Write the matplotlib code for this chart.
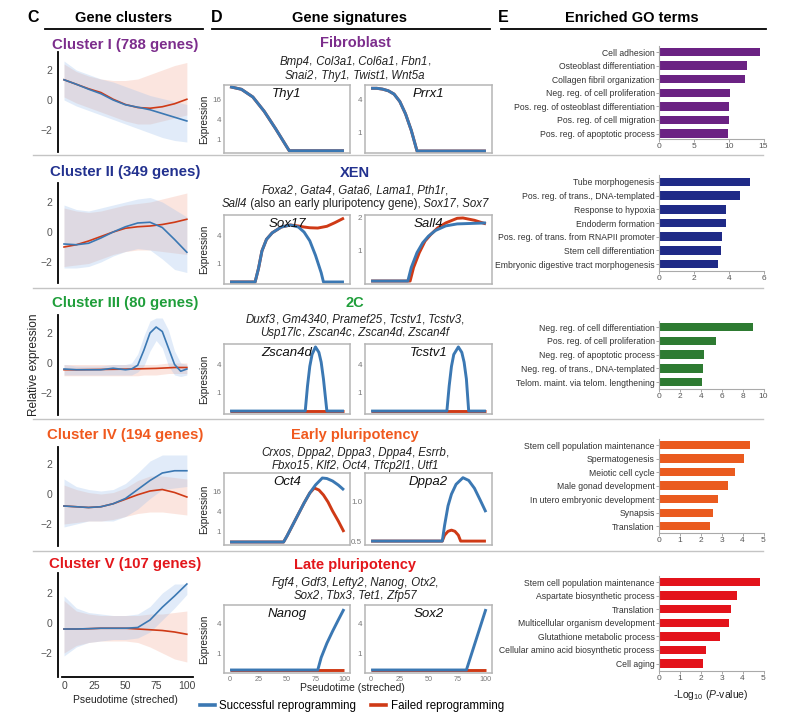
import re
import matplotlib
matplotlib.use("Agg")
import matplotlib.pyplot as plt
from matplotlib.lines import Line2D
from matplotlib.offsetbox import TextArea, HPacker, AnnotationBbox

plt.rcParams['font.family'] = ['Liberation Sans', 'DejaVu Sans']
plt.rcParams['mathtext.fontset'] = 'custom'
plt.rcParams['mathtext.rm'] = 'Liberation Sans'
plt.rcParams['mathtext.it'] = 'Liberation Sans:italic'
plt.rcParams['mathtext.bf'] = 'Liberation Sans:bold'

W, H = 787, 717
BLUE = '#3b78b3'
RED = '#cf3a16'
LIGHT_BLUE = '#9cc0ec'
LIGHT_RED = '#f4a48c'

# --- C: cluster trajectories (pseudotime vs relative expression) ---
t11 = [0, 10, 20, 30, 40, 50, 60, 70, 80, 90, 100]

c1_blue = [1.35, 1.05, 0.72, 0.42, 0.0, -0.32, -0.48, -0.65, -0.9, -1.15, -1.4]
c1_red = [1.35, 1.05, 0.75, 0.5, 0.05, -0.3, -0.5, -0.55, -0.45, -0.25, 0.05]
c1_blue_hi = [2.6, 2.0, 1.7, 1.4, 1.2, 0.9, 0.6, 0.3, 0.1, -0.1, -0.3]
c1_blue_lo = [0.0, -0.4, -0.7, -1.0, -1.3, -1.6, -1.9, -2.2, -2.5, -2.7, -2.8]
c1_red_hi = [2.4, 1.9, 1.6, 1.4, 1.3, 1.3, 1.4, 1.7, 2.0, 2.3, 2.5]
c1_red_lo = [0.2, -0.2, -0.5, -0.8, -1.1, -1.4, -1.6, -1.6, -1.4, -1.2, -1.0]

c2_blue = [-0.8, -0.85, -0.75, -0.4, 0.0, 0.35, 0.6, 0.65, 0.3, -0.5, -1.35]
c2_red = [-1.0, -0.85, -0.6, -0.3, 0.0, 0.25, 0.35, 0.4, 0.5, 0.65, 0.85]
c2_blue_hi = [1.8, 1.5, 1.4, 1.6, 1.8, 2.0, 2.2, 2.3, 2.0, 1.5, 1.0]
c2_blue_lo = [-2.4, -2.4, -2.3, -2.0, -1.6, -1.3, -1.1, -1.2, -1.8, -2.5, -2.7]
c2_red_hi = [1.6, 1.4, 1.3, 1.4, 1.6, 1.8, 1.9, 2.0, 2.2, 2.4, 2.6]
c2_red_lo = [-2.3, -2.2, -2.1, -1.8, -1.5, -1.3, -1.2, -1.2, -1.3, -1.4, -1.5]

t16 = [0, 10, 20, 30, 40, 50, 55, 60, 65, 70, 75, 80, 85, 90, 95, 100]
c3_blue = [-0.4, -0.45, -0.45, -0.45, -0.35, -0.45, -0.4, -0.15, 0.85, 2.0, 2.4, 2.1, 1.0, -0.1, -0.55, -0.4]
c3_red = [-0.45, -0.45, -0.44, -0.43, -0.42, -0.41, -0.4, -0.39, -0.38, -0.37, -0.36, -0.34, -0.32, -0.3, -0.3, -0.3]
c3_blue_hi = [-0.1, -0.2, -0.2, -0.2, -0.1, -0.1, 0.0, 0.6, 1.8, 2.8, 3.0, 3.0, 2.2, 0.8, 0.0, -0.1]
c3_blue_lo = [-0.8, -0.8, -0.8, -0.8, -0.8, -0.8, -0.8, -0.6, -0.2, 0.8, 1.5, 1.0, -0.2, -0.8, -0.9, -0.8]
c3_red_hi = [-0.1, -0.1, -0.1, -0.1, -0.1, -0.1, -0.1, -0.1, -0.1, -0.1, -0.1, -0.05, 0.0, 0.0, 0.0, 0.0]
c3_red_lo = [-0.85, -0.85, -0.85, -0.85, -0.85, -0.85, -0.85, -0.85, -0.8, -0.8, -0.8, -0.75, -0.7, -0.7, -0.7, -0.7]

c4_blue = [-0.8, -0.85, -0.9, -0.85, -0.65, -0.3, 0.3, 0.9, 1.4, 1.55, 1.55]
c4_red = [-0.8, -0.85, -0.9, -0.85, -0.65, -0.35, -0.05, 0.2, 0.3, 0.1, -0.2]
c4_blue_hi = [1.0, 0.5, 0.3, 0.2, 0.3, 0.7, 1.4, 2.2, 2.6, 2.6, 2.6]
c4_blue_lo = [-2.2, -2.0, -1.8, -1.8, -1.8, -1.5, -1.0, -0.3, 0.3, 0.4, 0.5]
c4_red_hi = [0.6, 0.3, 0.1, 0.0, 0.1, 0.4, 0.9, 1.2, 1.2, 1.1, 1.0]
c4_red_lo = [-2.0, -1.9, -1.8, -1.8, -1.7, -1.5, -1.3, -1.2, -1.2, -1.3, -1.4]

c5_blue = [-0.4, -0.4, -0.38, -0.35, -0.35, -0.35, -0.3, 0.2, 1.05, 1.8, 2.6]
c5_red = [-0.4, -0.4, -0.38, -0.35, -0.35, -0.35, -0.4, -0.45, -0.5, -0.6, -0.75]
c5_blue_hi = [1.8, 1.0, 0.7, 0.6, 0.5, 0.5, 0.6, 1.1, 2.0, 2.6, 2.6]
c5_blue_lo = [-2.2, -1.6, -1.3, -1.2, -1.1, -1.1, -1.0, -0.6, 0.2, 1.0, 1.9]
c5_red_hi = [1.5, 0.8, 0.6, 0.5, 0.5, 0.5, 0.5, 0.6, 0.6, 0.7, 0.8]
c5_red_lo = [-2.0, -1.5, -1.3, -1.2, -1.2, -1.2, -1.3, -1.6, -2.0, -2.4, -2.6]

cluster_titles = ['Cluster I (788 genes)', 'Cluster II (349 genes)', 'Cluster III (80 genes)',
                  'Cluster IV (194 genes)', 'Cluster V (107 genes)']
title_colors = ['#7c2d8c', '#22318f', '#1f9e3a', '#f0591e', '#e3161b']
bar_colors = ['#6b2283', '#1f2a87', '#2e7b32', '#ea5b1f', '#e3131b']

# --- D: gene signatures (log2 expression) ---
sig_titles = ['Fibroblast', 'XEN', '2C', 'Early pluripotency', 'Late pluripotency']
sig_genes = [
    ['*Bmp4*, *Col3a1*, *Col6a1*, *Fbn1*,', '*Snai2*, *Thy1*, *Twist1*, *Wnt5a*'],
    ['*Foxa2*, *Gata4*, *Gata6*, *Lama1*, *Pth1r*,',
     '*Sall4* (also an early pluripotency gene), *Sox17*, *Sox7*'],
    ['*Duxf3*, *Gm4340*, *Pramef25*, *Tcstv1*, *Tcstv3*,', '*Usp17lc*, *Zscan4c*, *Zscan4d*, *Zscan4f*'],
    ['*Crxos*, *Dppa2*, *Dppa3*, *Dppa4*, *Esrrb*,', '*Fbxo15*, *Klf2*, *Oct4*, *Tfcp2l1*, *Utf1*'],
    ['*Fgf4*, *Gdf3*, *Lefty2*, *Nanog*, *Otx2*,', '*Sox2*, *Tbx3*, *Tet1*, *Zfp57*'],
]

thy1_t = [0, 10, 20, 30, 40, 45, 50, 52, 100]
thy1_blue = [5.2, 4.95, 4.2, 2.8, 1.1, 0.2, -0.7, -1.05, -1.05]
thy1_red = [5.2, 4.95, 4.2, 2.8, 1.1, 0.2, -0.7, -1.05, -1.05]

prrx1_t = [0, 5, 10, 15, 20, 25, 30, 35, 40, 100]
prrx1_blue = [2.65, 2.65, 2.6, 2.5, 2.3, 1.85, 1.1, 0.1, -1.15, -1.15]
prrx1_red = [2.65, 2.65, 2.6, 2.5, 2.3, 1.85, 1.1, 0.1, -1.15, -1.15]

sox17_tb = [0, 22, 25, 28, 32, 37, 45, 53, 60, 65, 70, 75, 80, 82, 100]
sox17_blue = [-1.24, -1.24, -0.3, 0.9, 1.7, 2.15, 2.55, 2.69, 2.55, 2.2, 1.6, 0.6, -0.6, -1.24, -1.24]
sox17_tr = [0, 22, 25, 28, 32, 37, 45, 53, 60, 65, 70, 77, 85, 92, 100]
sox17_red = [-1.24, -1.24, -0.3, 0.9, 1.7, 2.15, 2.55, 2.69, 2.62, 2.55, 2.5, 2.48, 2.6, 2.85, 3.17]

sall4_tb = [0, 32, 35, 40, 45, 50, 56, 65, 75, 100]
sall4_blue = [-0.91, -0.91, -0.5, -0.05, 0.25, 0.45, 0.62, 0.76, 0.82, 0.85]
sall4_tr = [0, 34, 37, 42, 47, 52, 58, 65, 75, 80, 90, 100]
sall4_red = [-0.91, -0.91, -0.5, -0.05, 0.3, 0.5, 0.7, 0.85, 0.99, 1.0, 0.93, 0.82]

zscan4d_t = [0, 66, 68, 70, 72, 75, 78, 80, 82, 85, 100]
zscan4d_blue = [-1.29, -1.29, 0.5, 1.9, 2.75, 3.29, 2.9, 2.2, 1.0, -1.29, -1.29]
zscan4d_red = [-1.29, -1.29, -1.29, -1.29, -1.29, -1.29, -1.29, -1.29, -1.29, -1.29, -1.29]

tcstv1_t = [0, 66, 68, 70, 72, 76, 79, 81, 83, 85, 100]
tcstv1_blue = [-1.29, -1.29, 0.5, 1.9, 2.75, 3.29, 2.9, 2.2, 1.0, -1.29, -1.29]
tcstv1_red = [-1.29, -1.29, -1.29, -1.29, -1.29, -1.29, -1.29, -1.29, -1.29, -1.29, -1.29]

oct4_tb = [0, 47, 50, 55, 60, 65, 70, 75, 81, 85, 90, 95, 100]
oct4_blue = [-1.1, -1.1, -0.5, 0.6, 1.7, 2.8, 3.8, 4.6, 5.3, 5.25, 5.0, 4.6, 4.1]
oct4_tr = [0, 47, 50, 55, 60, 65, 70, 74, 78, 82, 86, 90, 95, 100]
oct4_red = [-1.1, -1.1, -0.5, 0.6, 1.7, 2.8, 3.8, 4.3, 4.1, 3.6, 2.9, 2.0, 1.0, -0.1]

dppa2_tb = [0, 62, 64, 67, 70, 74, 80, 85, 90, 95, 100]
dppa2_blue = [-1.0, -1.0, -0.6, -0.1, 0.2, 0.45, 0.62, 0.55, 0.35, 0.05, -0.26]
dppa2_tr = [0, 62, 64, 67, 70, 73, 76, 78, 100]
dppa2_red = [-1.0, -1.0, -0.85, -0.75, -0.72, -0.75, -0.85, -1.0, -1.0]

nanog_tb = [0, 77, 80, 85, 90, 95, 100]
nanog_blue = [-1.13, -1.13, -0.3, 0.65, 1.45, 2.2, 2.93]
nanog_tr = [0, 100]
nanog_red = [-1.13, -1.13]

sox2_tb = [0, 83, 100]
sox2_blue = [-1.13, -1.13, 2.93]
sox2_tr = [0, 100]
sox2_red = [-1.13, -1.13]

# --- E: enriched GO terms (-log10 P) ---
go1_terms = ['Cell adhesion', 'Osteoblast differentiation', 'Collagen fibril organization',
             'Neg. reg. of cell proliferation', 'Pos. reg. of osteoblast differentiation',
             'Pos. reg. of cell migration', 'Pos. reg. of apoptotic process']
go1_vals = [14.5, 12.7, 12.3, 10.2, 10.1, 10.0, 9.9]
go2_terms = ['Tube morphogenesis', 'Pos. reg. of trans., DNA-templated', 'Response to hypoxia',
             'Endoderm formation', 'Pos. reg. of trans. from RNAPII promoter',
             'Stem cell differentiation', 'Embryonic digestive tract morphogenesis']
go2_vals = [5.2, 4.64, 3.87, 3.86, 3.6, 3.55, 3.37]
go3_terms = ['Neg. reg. of cell differentiation', 'Pos. reg. of cell proliferation',
             'Neg. reg. of apoptotic process', 'Neg. reg. of trans., DNA-templated',
             'Telom. maint. via telom. lengthening']
go3_vals = [9.0, 5.45, 4.3, 4.25, 4.1]
go4_terms = ['Stem cell population maintenance', 'Spermatogenesis', 'Meiotic cell cycle',
             'Male gonad development', 'In utero embryonic development', 'Synapsis', 'Translation']
go4_vals = [4.35, 4.05, 3.65, 3.3, 2.8, 2.6, 2.45]
go5_terms = ['Stem cell population maintenance', 'Aspartate biosynthetic process', 'Translation',
             'Multicellular organism development', 'Glutathione metabolic process',
             'Cellular amino acid biosynthetic process', 'Cell aging']
go5_vals = [4.85, 3.75, 3.45, 3.35, 2.9, 2.27, 2.12]


def px_axes(fig, x0, y0, x1, y1):
    return fig.add_axes([x0 / W, 1 - y1 / H, (x1 - x0) / W, (y1 - y0) / H])


def ftext(fig, x, y, s, **kw):
    kw.setdefault('ha', 'center')
    kw.setdefault('va', 'center')
    fig.text(x / W, 1 - y / H, s, **kw)


def hline(fig, x0, x1, y, **kw):
    fig.add_artist(Line2D([x0 / W, x1 / W], [1 - y / H, 1 - y / H], transform=fig.transFigure, **kw))


def rich_line(fig, x, y, s, size, color):
    # *word* -> italic; spaces moved to the start of the next piece so they keep their width
    parts = [p for p in re.split(r'(\*[^*]+\*)', s) if p]
    boxes = []
    carry = ''
    for p in parts:
        italic = p.startswith('*')
        txt = carry + (p[1:-1] if italic else p)
        carry = txt[len(txt.rstrip(' ')):]
        txt = txt.rstrip(' ')
        props = dict(fontsize=size, color=color, style='italic' if italic else 'normal')
        boxes.append(TextArea(txt, textprops=props))
    pack = HPacker(children=boxes, align='baseline', pad=0, sep=0)
    ab = AnnotationBbox(pack, (x / W, 1 - y / H), xycoords='figure fraction', frameon=False,
                        box_alignment=(0.5, 0.5), pad=0)
    fig.add_artist(ab)


fig = plt.figure(figsize=(W / 100, H / 100), dpi=100)

# headers
for letter, lx, label, cx, ux0, ux1 in [('C', 33, 'Gene clusters', 124, 45, 203),
                                        ('D', 217, 'Gene signatures', 350, 212, 490),
                                        ('E', 503, 'Enriched GO terms', 632, 501, 766)]:
    ftext(fig, lx, 17, letter, fontsize=11.5, fontweight='bold')
    ftext(fig, cx, 18, label, fontsize=10.5, fontweight='bold')
    hline(fig, ux0, ux1, 29, color='black', lw=1.3)

for sy in [155, 288, 419, 551]:
    hline(fig, 33, 763, sy, color='#c4c4c4', lw=1.0)

# --- C panels ---
clusters = [
    (t11, c1_blue, c1_red, c1_blue_lo, c1_blue_hi, c1_red_lo, c1_red_hi),
    (t11, c2_blue, c2_red, c2_blue_lo, c2_blue_hi, c2_red_lo, c2_red_hi),
    (t16, c3_blue, c3_red, c3_blue_lo, c3_blue_hi, c3_red_lo, c3_red_hi),
    (t11, c4_blue, c4_red, c4_blue_lo, c4_blue_hi, c4_red_lo, c4_red_hi),
    (t11, c5_blue, c5_red, c5_blue_lo, c5_blue_hi, c5_red_lo, c5_red_hi),
]
cl_boxes = [(52, 152, 100), (183, 283, 232), (315, 415, 363), (447, 546, 494), (573, 677, 623)]
cl_title_y = [45, 172, 303, 435, 564]

for i, (t, b, r, blo, bhi, rlo, rhi) in enumerate(clusters):
    y0, y1, yz = cl_boxes[i]
    ax = px_axes(fig, 57.5, y0, 193, y1)
    ax.fill_between(t, rlo, rhi, color=LIGHT_RED, alpha=0.28, lw=0)
    ax.fill_between(t, blo, bhi, color=LIGHT_BLUE, alpha=0.3, lw=0)
    ax.plot(t, r, color=RED, lw=1.2)
    ax.plot(t, b, color=BLUE, lw=1.2)
    ax.set_xlim(-5.3, 105)
    ax.set_ylim(-(y1 - yz) / 15.0, (yz - y0) / 15.0)
    ax.set_yticks([-2, 0, 2])
    ax.set_yticklabels(['\u22122', '0', '2'])
    ax.tick_params(axis='y', length=0, labelsize=7.5, labelcolor='#555555', pad=4)
    for s in ['top', 'right']:
        ax.spines[s].set_visible(False)
    ax.spines['left'].set_linewidth(1.3)
    if i < 4:
        ax.spines['bottom'].set_visible(False)
        ax.set_xticks([])
    else:
        ax.spines['bottom'].set_linewidth(1.3)
        ax.spines['bottom'].set_bounds(-1.6, 105)
        ax.set_xticks([0, 25, 50, 75, 100])
        ax.tick_params(axis='x', length=0, labelsize=7.5, labelcolor='#444444', pad=3)
        ax.set_xlabel('Pseudotime (streched)', fontsize=7.5, color='#222222', labelpad=3)
    if i == 2:
        ax.set_ylabel('Relative expression', fontsize=8.5, color='#222222')
        ax.yaxis.set_label_coords(-0.128, 0.5)
    ftext(fig, 125, cl_title_y[i], cluster_titles[i], fontsize=10.8, fontweight='bold',
          color=title_colors[i])

# --- D panels ---
sig_rows = [(85, 153), (215, 284), (344, 414), (473, 545), (605, 673)]
sig_title_y = [43, 173, 303, 435, 565]
sig_gene_y = [(62, 76), (191, 204), (320, 333), (453, 466), (583, 596)]
sig_plots = [
    [('Thy1', thy1_t, thy1_blue, thy1_t, thy1_red, (-1.27, 5.37), [0, 2, 4], ['1', '4', '16']),
     ('Prrx1', prrx1_t, prrx1_blue, prrx1_t, prrx1_red, (-1.27, 2.85), [0, 2], ['1', '4'])],
    [('Sox17', sox17_tb, sox17_blue, sox17_tr, sox17_red, (-1.38, 3.38), [0, 2], ['1', '4']),
     ('Sall4', sall4_tb, sall4_blue, sall4_tr, sall4_red, (-1.0, 1.09), [0, 1], ['1', '2'])],
    [('Zscan4d', zscan4d_t, zscan4d_blue, zscan4d_t, zscan4d_red, (-1.5, 3.5), [0, 2], ['1', '4']),
     ('Tcstv1', tcstv1_t, tcstv1_blue, tcstv1_t, tcstv1_red, (-1.5, 3.5), [0, 2], ['1', '4'])],
    [('Oct4', oct4_tb, oct4_blue, oct4_tr, oct4_red, (-1.4, 5.8), [0, 2, 4], ['1', '4', '16']),
     ('Dppa2', dppa2_tb, dppa2_blue, dppa2_tr, dppa2_red, (-1.1, 0.74), [-1, 0], ['0.5', '1.0'])],
    [('Nanog', nanog_tb, nanog_blue, nanog_tr, nanog_red, (-1.33, 3.2), [0, 2], ['1', '4']),
     ('Sox2', sox2_tb, sox2_blue, sox2_tr, sox2_red, (-1.33, 3.2), [0, 2], ['1', '4'])],
]

for i, row in enumerate(sig_plots):
    y0, y1 = sig_rows[i]
    ftext(fig, 355, sig_title_y[i], sig_titles[i], fontsize=10.5, fontweight='bold',
          color=title_colors[i])
    for gy, line in zip(sig_gene_y[i], sig_genes[i]):
        rich_line(fig, 355, gy, line, 8.3, '#222222')
    for j, (gene, tb, yb, tr, yr, ylim, ticks, labels) in enumerate(row):
        x0, x1 = (224, 350) if j == 0 else (365, 492)
        ax = px_axes(fig, x0, y0, x1, y1)
        ax.plot(tr, yr, color=RED, lw=2.1, solid_capstyle='butt')
        ax.plot(tb, yb, color=BLUE, lw=2.1, solid_capstyle='butt')
        ax.set_xlim(-5.3, 105.3)
        ax.set_ylim(*ylim)
        ax.set_yticks(ticks)
        ax.set_yticklabels(labels)
        ax.tick_params(axis='y', length=0, labelsize=5.8, labelcolor='#777777', pad=2)
        for s in ax.spines.values():
            s.set_color('#b5b5b5')
            s.set_linewidth(1.1)
        ax.text(0.5, 0.87, gene, transform=ax.transAxes, ha='center', va='center',
                fontsize=9.5, style='italic', color='#111111')
        if i == 4:
            ax.set_xticks([0, 25, 50, 75, 100])
            ax.tick_params(axis='x', length=0, labelsize=5.2, labelcolor='#777777', pad=2)
        else:
            ax.set_xticks([])
        if j == 0:
            ax.set_ylabel('Expression', fontsize=7.2, color='#222222')
            ax.yaxis.set_label_coords(-0.115, 0.5)

ftext(fig, 352, 688, 'Pseudotime (streched)', fontsize=7.5, color='#222222')

handles = [Line2D([0], [0], color=BLUE, lw=2.6), Line2D([0], [0], color=RED, lw=2.6)]
fig.legend(handles, ['Successful reprogramming', 'Failed reprogramming'], loc='center',
           bbox_to_anchor=(352 / W, 1 - 706 / H), ncol=2, frameon=False, fontsize=8.3,
           handlelength=1.3, handletextpad=0.4, columnspacing=1.3, borderaxespad=0)

# --- E panels ---
go_sets = [
    (go1_terms, go1_vals, (46, 139), (6.4, -0.45), 15, [0, 5, 10, 15]),
    (go2_terms, go2_vals, (175, 271), (6.5, -0.5), 6, [0, 2, 4, 6]),
    (go3_terms, go3_vals, (321, 389), (4.5, -0.45), 10, [0, 2, 4, 6, 8, 10]),
    (go4_terms, go4_vals, (439, 533), (6.5, -0.45), 5, [0, 1, 2, 3, 4, 5]),
    (go5_terms, go5_vals, (576, 671), (6.55, -0.45), 5, [0, 1, 2, 3, 4, 5]),
]
for i, (terms, vals, (y0, y1), ylim, xmax, xt) in enumerate(go_sets):
    ax = px_axes(fig, 659, y0, 763.5, y1)
    ax.barh(range(len(terms)), vals, height=0.62, color=bar_colors[i])
    ax.set_ylim(*ylim)
    ax.set_xlim(0, xmax)
    ax.set_yticks(range(len(terms)))
    ax.set_yticklabels(terms)
    ax.set_xticks(xt)
    ax.tick_params(axis='y', length=2, width=0.6, color='#999999', labelsize=6.2,
                   labelcolor='#333333', pad=1)
    ax.tick_params(axis='x', length=2, width=0.6, color='#999999', labelsize=6.0,
                   labelcolor='#555555', pad=1)
    for s in ['top', 'right']:
        ax.spines[s].set_visible(False)
    for s in ['left', 'bottom']:
        ax.spines[s].set_color('#aaaaaa')
        ax.spines[s].set_linewidth(0.8)
    if i == 4:
        ax.set_xlabel(r'-Log$_{10}$ ($\mathit{P}$-value)', fontsize=7.5, color='#222222',
                      labelpad=4)

fig.savefig('out.png', dpi=100)
